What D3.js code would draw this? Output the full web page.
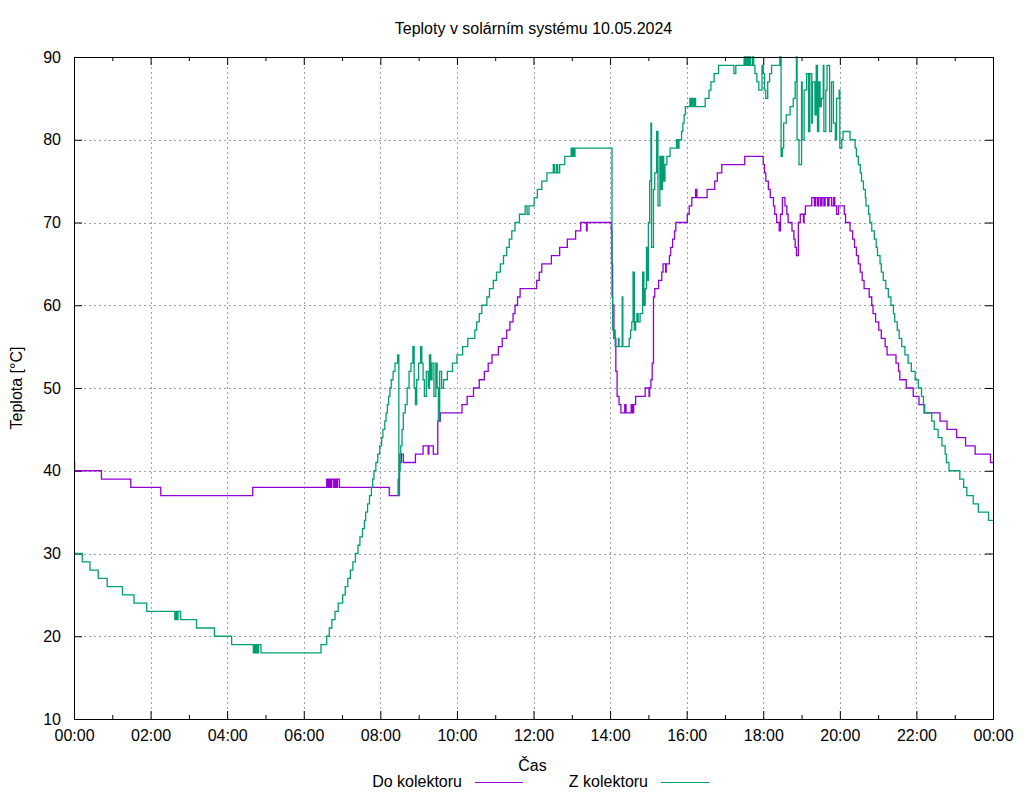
<!DOCTYPE html>
<html>
<head>
<meta charset="utf-8">
<script src="https://cdn.jsdelivr.net/npm/d3@7/dist/d3.min.js"></script>
<style>
body { margin: 0; background: #fff; }
text { font-family: "Liberation Sans", Arial, sans-serif; font-size: 16px; fill: #000; }
</style>
</head>
<body>
<svg></svg>
<script>
// temperature readings, [time, °C], drawn as steps
const doKolektoru = [
    ['00:00',41],['00:01',40],['00:43',39],['01:29',38],['02:16',37],['04:40',38],
    ['06:36',39],['06:38',38],['06:40',39],['06:42',38],['06:44',39],['06:47',38],['06:49',39],['06:51',38],['06:53',39],['06:56',38],
    ['08:14',37],['08:28',39],['08:30',41],['08:33',42],['08:36',41],['08:55',42],['09:07',43],['09:15',42],['09:16',43],['09:23',42],['09:30',46],['09:34',47],
    ['10:08',48],['10:16',49],['10:26',50],['10:35',51],['10:43',52],['10:49',53],['10:55',54],['11:05',55],['11:11',56],['11:18',57],['11:23',58],['11:28',59],
    ['11:31',60],['11:35',61],['11:39',62],['12:05',63],['12:09',64],['12:13',65],['12:28',66],['12:41',67],['12:53',68],['13:06',69],['13:14',70],['13:23',69],['13:24',70],
    ['14:02',69],['14:03',65],['14:04',60],['14:06',56],['14:09',52],['14:11',49],['14:14',48],['14:17',47],['14:23',48],['14:25',47],['14:33',48],['14:35',47],
    ['14:37',48],['14:40',49],['14:55',50],['15:01',49],['15:02',50],['15:04',51],['15:06',53],['15:08',61],['15:10',62],['15:16',63],['15:21',64],['15:23',65],
    ['15:27',64],['15:28',65],['15:33',66],['15:35',67],['15:38',68],['15:41',69],['15:43',70],
    ['16:01',71],['16:04',72],['16:08',73],['16:14',74],['16:16',73],['16:32',74],['16:44',75],['16:48',76],['16:55',77],['17:31',78],
    ['18:00',77],['18:02',76],['18:04',75],['18:08',74],['18:11',73],['18:16',72],['18:18',71],['18:21',70],['18:25',69],['18:27',71],['18:30',73],['18:34',72],
    ['18:37',71],['18:39',70],['18:45',69],['18:48',68],['18:50',67],['18:52',66],['18:55',70],['18:58',71],['19:03',70],['19:04',71],['19:06',72],
    ['19:16',73],['19:20',72],['19:22',73],['19:25',72],['19:27',73],['19:30',72],['19:32',73],['19:35',72],['19:37',73],['19:41',72],['19:43',73],['19:47',72],
    ['19:50',73],['19:52',72],['19:55',71],['19:58',72],['20:07',71],['20:09',70],
    ['20:16',69],['20:20',68],['20:23',67],['20:26',66],['20:29',65],['20:32',64],['20:35',63],['20:38',62],['20:46',61],['20:50',60],['20:52',59],['20:56',58],
    ['21:01',57],['21:05',56],['21:11',55],['21:14',54],['21:28',53],['21:32',52],['21:34',51],['21:44',50],['21:55',49],['22:04',48],['22:12',47],['22:37',46],
    ['22:48',45],['23:03',44],['23:17',43],['23:32',42],['23:56',41],['24:00',41]
];

const zKolektoru = [
    ['00:00',30],['00:13',29],['00:25',28],['00:38',27],['00:52',26],['01:16',25],['01:34',24],['01:54',23],['02:38',22],['02:40',23],['02:41',22],['02:43',23],
    ['02:47',22],['03:12',21],['03:40',20],['04:07',19],['04:41',18],['04:42',19],['04:44',18],['04:46',19],['04:48',18],['04:49',19],['04:53',18],
    ['06:27',19],['06:36',20],['06:40',21],['06:44',22],['06:49',23],['06:54',24],['07:01',25],['07:05',26],['07:09',27],['07:13',28],['07:17',29],['07:21',30],
    ['07:25',31],['07:28',32],['07:32',33],['07:35',34],['07:37',35],['07:40',36],['07:43',37],['07:46',38],['07:48',39],['07:50',40],['07:53',41],['07:56',42],
    ['07:59',43],['08:02',44],['08:04',45],['08:07',46],['08:09',47],['08:11',48],['08:13',49],['08:15',50],['08:17',51],['08:20',52],['08:23',53],['08:27',54],
    ['08:29',37],['08:30',40],['08:31',42],['08:32',43],['08:34',45],['08:36',47],['08:39',48],['08:42',50],['08:45',52],['08:48',53],['08:51',55],['08:53',50],
    ['08:55',48],['08:57',51],['09:00',53],['09:03',55],['09:05',53],['09:07',51],['09:09',49],['09:12',52],['09:15',50],['09:17',54],['09:19',51],['09:21',53],
    ['09:24',49],['09:27',53],['09:29',50],['09:31',46],['09:33',52],['09:36',50],['09:39',51],['09:45',52],['09:53',53],
    ['10:00',54],['10:09',55],['10:17',56],['10:28',57],['10:31',58],['10:35',59],['10:39',60],['10:47',61],['10:51',62],['10:57',63],['11:02',64],['11:08',65],
    ['11:13',66],['11:18',67],['11:22',68],['11:26',69],['11:31',70],['11:38',71],['11:47',72],['11:50',71],['11:53',72],['12:01',73],['12:06',74],['12:13',75],
    ['12:21',76],['12:31',77],['12:33',76],['12:36',77],['12:38',76],['12:41',77],['12:49',78],['12:59',79],['13:00',78],['13:02',79],['13:03',78],['13:05',79],
    ['14:03',61],['14:04',57],['14:06',56],['14:07',57],['14:08',55],['14:13',56],['14:14',55],['14:19',61],['14:20',55],['14:30',56],['14:32',57],['14:34',58],
    ['14:36',64],['14:38',57],['14:40',58],['14:42',59],['14:44',58],['14:47',59],['14:51',64],['14:53',60],['14:55',62],['14:57',67],['14:58',63],['15:00',70],
    ['15:02',75],['15:04',82],['15:05',67],['15:08',74],['15:10',76],['15:13',81],['15:15',72],['15:18',78],['15:20',74],['15:22',78],['15:24',75],['15:26',77],
    ['15:29',78],['15:34',79],['15:44',80],['15:46',79],['15:48',80],['15:52',81],['15:54',82],['15:56',83],['15:58',84],
    ['16:05',85],['16:07',84],['16:09',85],['16:11',84],['16:13',85],['16:14',84],['16:29',85],['16:35',86],['16:38',87],['16:43',88],['16:50',89],['17:14',88],
    ['17:17',89],['17:30',90],['17:32',89],['17:34',90],['17:36',89],['17:38',90],['17:40',89],['17:43',90],['17:45',89],['17:47',88],['17:50',87],['17:53',86],
    ['17:58',89],['18:00',88],['18:02',86],['18:04',85],['18:07',87],['18:10',88],['18:13',89],['18:26',90],['18:28',78],['18:30',79],['18:32',82],['18:36',83],
    ['18:42',84],['18:47',85],['18:50',87],['18:52',90],['18:53',80],['18:56',77],['19:00',87],['19:01',80],['19:04',86],['19:08',88],['19:11',81],['19:13',88],
    ['19:16',82],['19:17',87],['19:21',83],['19:23',89],['19:25',81],['19:27',87],['19:29',84],['19:31',85],['19:34',89],['19:35',81],['19:38',86],['19:40',89],
    ['19:44',81],['19:47',87],['19:50',82],['19:53',80],['19:55',85],['19:59',86],['20:00',79],['20:03',80],['20:05',81],['20:16',80],['20:24',79],['20:26',78],
    ['20:29',77],['20:32',76],['20:34',75],['20:37',74],['20:40',73],['20:41',72],['20:45',71],['20:47',70],['20:50',69],['20:54',68],['20:57',67],['20:59',66],
    ['21:03',65],['21:05',64],['21:08',63],['21:12',62],['21:16',61],['21:20',60],['21:24',59],['21:26',58],['21:30',57],['21:33',56],['21:37',55],['21:42',54],
    ['21:47',53],['21:52',52],['21:58',51],['22:03',50],['22:08',49],['22:11',48],['22:13',47],['22:24',46],['22:28',45],['22:34',44],['22:40',43],['22:45',42],
    ['22:47',41],['22:51',40],['23:08',39],['23:14',38],['23:19',37],['23:29',36],['23:37',35],['23:53',34],['24:00',34]
];

const seriesNames = ['Do kolektoru', 'Z kolektoru'];
const seriesColors = ['#9400d3', '#009e73'];
const yTicks = [10, 20, 30, 40, 50, 60, 70, 80, 90];
const xMajorHours = [0, 2, 4, 6, 8, 10, 12, 14, 16, 18, 20, 22, 24];
const xMinorHours = [1, 3, 5, 7, 9, 11, 13, 15, 17, 19, 21, 23];

const margin = {t: 57, r: 31, b: 81, l: 74};
const size = {w: 1024, h: 800};
const plot = {w: size.w - margin.l - margin.r, h: size.h - margin.t - margin.b};

const svg = d3.select('svg')
    .attr('width', size.w)
    .attr('height', size.h);

const toMin = s => +s.slice(0, 2) * 60 + +s.slice(3, 5);
const hourLabel = h => d3.format('02d')(h % 24) + ':00';

const x = d3.scaleLinear().domain([0, 24 * 60]).range([0, plot.w]);
const y = d3.scaleLinear().domain([10, 90]).range([plot.h, 0]);

const g = svg.append('g')
    .attr('transform', 'translate(' + margin.l + ',' + margin.t + ')');

// dashed grid
g.append('g').selectAll('line')
    .data(xMajorHours.slice(1, -1))
    .enter().append('line')
    .attr('x1', d => Math.round(x(d * 60)) + 0.5).attr('x2', d => Math.round(x(d * 60)) + 0.5)
    .attr('y1', 0).attr('y2', plot.h)
    .attr('stroke', '#a0a0a0').attr('stroke-dasharray', '2,3');
g.append('g').selectAll('line')
    .data(yTicks.slice(1, -1))
    .enter().append('line')
    .attr('y1', d => Math.round(y(d)) + 0.5).attr('y2', d => Math.round(y(d)) + 0.5)
    .attr('x1', 0).attr('x2', plot.w)
    .attr('stroke', '#a0a0a0').attr('stroke-dasharray', '2,3');

// axes: ticks point inwards like gnuplot
const fmt = m => hourLabel(m / 60);
const styleAxis = sel => {
    sel.select('.domain').remove();
    sel.selectAll('line').attr('stroke', '#000');
    sel.selectAll('text').style('font-size', '16px').attr('fill', '#000');
};
g.append('g').attr('transform', 'translate(0,' + plot.h + ')')
    .call(d3.axisBottom(x).tickValues(xMajorHours.map(h => h * 60)).tickSize(-8).tickPadding(11).tickFormat(fmt))
    .call(styleAxis);
g.append('g').attr('transform', 'translate(0,' + plot.h + ')')
    .call(d3.axisBottom(x).tickValues(xMinorHours.map(h => h * 60)).tickSize(-4).tickFormat(''))
    .call(styleAxis);
g.append('g')
    .call(d3.axisTop(x).tickValues(xMajorHours.map(h => h * 60)).tickSize(-8).tickFormat(''))
    .call(styleAxis);
g.append('g')
    .call(d3.axisTop(x).tickValues(xMinorHours.map(h => h * 60)).tickSize(-4).tickFormat(''))
    .call(styleAxis);
g.append('g')
    .call(d3.axisLeft(y).tickValues(yTicks).tickSize(-8).tickPadding(13))
    .call(styleAxis);
g.append('g').attr('transform', 'translate(' + plot.w + ',0)')
    .call(d3.axisRight(y).tickValues(yTicks).tickSize(-8).tickFormat(''))
    .call(styleAxis);

// series as steps
const line = d3.line()
    .x(d => x(toMin(d[0])))
    .y(d => y(d[1]))
    .curve(d3.curveStepAfter);

[doKolektoru, zKolektoru].forEach((data, i) => {
    g.append('path')
        .datum(data)
        .attr('fill', 'none')
        .attr('stroke', seriesColors[i])
        .attr('stroke-width', 1.3)
        .attr('d', line);
});

// border
g.append('rect')
    .attr('x', 0.5).attr('y', 0.5)
    .attr('width', plot.w).attr('height', plot.h)
    .attr('fill', 'none').attr('stroke', '#000');

// titles
svg.append('text')
    .attr('x', margin.l + plot.w / 2).attr('y', 34)
    .attr('text-anchor', 'middle')
    .text('Teploty v solárním systému 10.05.2024');
svg.append('text')
    .attr('x', margin.l + plot.w / 2 - 1).attr('y', 771)
    .attr('text-anchor', 'middle')
    .text('Čas');
svg.append('text')
    .attr('transform', 'translate(22,' + (margin.t + plot.h / 2) + ') rotate(-90)')
    .attr('text-anchor', 'middle')
    .text('Teplota [°C]');

// legend under the axis label
const legend = svg.append('g');
seriesNames.forEach((name, i) => {
    const kx = 462 + i * 186;
    legend.append('text')
        .attr('x', kx).attr('y', 787)
        .attr('text-anchor', 'end')
        .text(name);
    legend.append('line')
        .attr('x1', kx + 13).attr('x2', kx + 61)
        .attr('y1', 782.5).attr('y2', 782.5)
        .attr('stroke', seriesColors[i]);
});
</script>
</body>
</html>
